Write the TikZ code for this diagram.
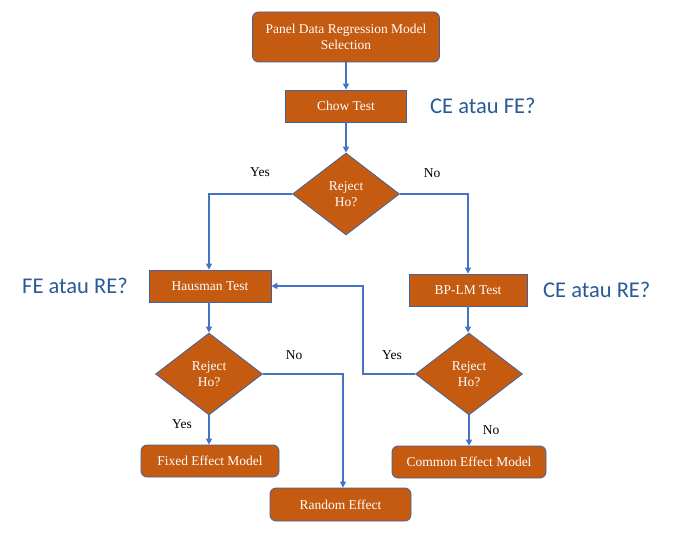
\documentclass[tikz,border=0pt]{standalone}
\usepackage{fontspec}
\setmainfont{Liberation Serif}
\newfontfamily\lblfont{Carlito}
\usetikzlibrary{shapes.geometric,arrows.meta}
\definecolor{boxfill}{RGB}{197,90,17}
\definecolor{boxline}{RGB}{65,100,160}
\definecolor{arrowc}{RGB}{68,114,196}
\definecolor{lblblue}{RGB}{40,90,150}
\tikzset{
  base/.style={fill=boxfill, draw=boxline, line width=0.8pt, text=white, font=\fontsize{13.5}{15.5}\selectfont, align=center, inner sep=0pt},
  sqbox/.style={base, rectangle},
  rbox/.style={base, rectangle, rounded corners=6pt},
  decide/.style={base, diamond, minimum width=107pt, minimum height=82pt},
  conn/.style={draw=arrowc, line width=1.6pt, -{Triangle[width=6pt,length=6pt]}},
  yn/.style={font=\fontsize{13.5}{15.5}\selectfont, text=black},
  side/.style={font=\lblfont\fontsize{22.5}{26}\selectfont, text=lblblue, anchor=west, inner sep=0pt}
}
\begin{document}
\begin{tikzpicture}[x=1pt,y=-1pt]
\useasboundingbox (0,0) rectangle (685,548);
% nodes
\node[rbox, minimum width=187pt, minimum height=50pt] (start) at (346,37) {Panel Data Regression Model\\Selection};
\node[sqbox, minimum width=121pt, minimum height=32pt] (chow) at (346,106) {Chow Test};
\node[decide] (d1) at (346,194) {Reject\\Ho?};
\node[sqbox, minimum width=122pt, minimum height=32pt] (haus) at (210,286) {Hausman Test};
\node[sqbox, minimum width=118pt, minimum height=32pt] (bplm) at (468,290) {BP-LM Test};
\node[decide] (d2) at (209,374) {Reject\\Ho?};
\node[decide] (d3) at (469,374) {Reject\\Ho?};
\node[rbox, minimum width=138pt, minimum height=32pt] (fem) at (210,461) {Fixed Effect Model};
\node[rbox, minimum width=154pt, minimum height=32pt] (cem) at (469,462) {Common Effect Model};
\node[rbox, minimum width=141pt, minimum height=33pt] (rem) at (340.5,504.5) {Random Effect};
% side labels
\node[side] (l1) at (430,106) {CE atau FE?};
\node[side] (l2) at (22,286) {FE atau RE?};
\node[side] (l3) at (543,290) {CE atau RE?};
% yes/no labels
\node[yn] (y1) at (260,172) {Yes};
\node[yn] (n1) at (432,173) {No};
\node[yn] (n2) at (294,355) {No};
\node[yn] (y3) at (392,355) {Yes};
\node[yn] (y2) at (182,424) {Yes};
\node[yn] (n3) at (491,430) {No};
% coordinates
\coordinate (c1) at (209,194);
\coordinate (c2) at (468,194);
\coordinate (c3) at (363,374);
\coordinate (c4) at (363,286);
\coordinate (c5) at (343,374);
% connectors
\draw[conn] (start.south) -- (start.south |- chow.north);
\draw[conn] (chow.south) -- (d1.north);
\draw[conn] (d1.west) -- (c1) -- (c1 |- haus.north);
\draw[conn] (d1.east) -- (c2) -- (c2 |- bplm.north);
\draw[conn] (haus.south -| d2.north) -- (d2.north);
\draw[conn] (bplm.south) -- (bplm.south |- d3.north);
\draw[conn] (d2.south) -- (d2.south |- fem.north);
\draw[conn] (d3.south) -- (d3.south |- cem.north);
\draw[conn] (d3.west) -- (c3) -- (c4) -- (haus.east);
\draw[conn] (d2.east) -- (c5) -- (c5 |- rem.north);
\end{tikzpicture}
\end{document}
